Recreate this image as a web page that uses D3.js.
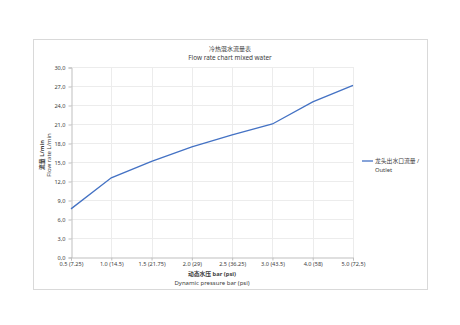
<!DOCTYPE html>
<html>
<head>
<meta charset="utf-8">
<script src="https://cdnjs.cloudflare.com/ajax/libs/d3/7.8.5/d3.min.js"></script>
<style>
  body { margin: 0; background: #fff; }
  text { font-family: "Noto Sans", "Noto Sans CJK SC", sans-serif; fill: #404040; }
</style>
</head>
<body>
<script>
"use strict";
var svg_width = 460;
var svg_height = 325;

// ---data
var pressure_labels = ["0.5 (7.25)", "1.0 (14.5)", "1.5 (21.75)", "2.0 (29)", "2.5 (36.25)", "3.0 (43.5)", "4.0 (58)", "5.0 (72,5)"];
var flow_values = [7.6, 12.5, 15.1, 17.4, 19.3, 21.0, 24.5, 27.1];
var y_ticks = [0, 3, 6, 9, 12, 15, 18, 21, 24, 27, 30];
var series_name = ["龙头出水口流量 /", "Outlet"];

var plot = {left: 71, right: 353, top: 67, bottom: 257};

var svg = d3.select("body")
    .append("svg")
    .attr("width", svg_width)
    .attr("height", svg_height);

// ---chart frame
svg.append("rect")
    .attr("x", 33.5)
    .attr("y", 39.5)
    .attr("width", 394)
    .attr("height", 250)
    .attr("fill", "#fff")
    .attr("stroke", "#d9d9d9")
    .attr("stroke-width", 1);

var xscale = d3.scalePoint()
    .domain(pressure_labels)
    .range([plot.left, plot.right]);
var yscale = d3.scaleLinear()
    .domain([0, 30])
    .range([plot.bottom, plot.top]);

// ---gridlines
svg.append("g")
    .selectAll("line.hgrid")
    .data(y_ticks.slice(1))
    .enter()
    .append("line")
    .attr("x1", plot.left)
    .attr("x2", plot.right)
    .attr("y1", function(d) { return yscale(d) + 0.5; })
    .attr("y2", function(d) { return yscale(d) + 0.5; })
    .attr("stroke", "#ececec");
svg.append("g")
    .selectAll("line.vgrid")
    .data(pressure_labels.slice(1))
    .enter()
    .append("line")
    .attr("x1", function(d) { return Math.round(xscale(d)) + 0.5; })
    .attr("x2", function(d) { return Math.round(xscale(d)) + 0.5; })
    .attr("y1", plot.top)
    .attr("y2", plot.bottom)
    .attr("stroke", "#ececec");

// ---axes
var yaxis = d3.axisLeft(yscale)
    .tickValues(y_ticks)
    .tickSize(3)
    .tickPadding(3)
    .tickFormat(function(d) { return d3.format(".1f")(d).replace(".", ","); });
var ya = svg.append("g")
    .attr("transform", "translate(" + (plot.left + 0.5) + ",0.5)")
    .call(yaxis);
var xaxis = d3.axisBottom(xscale)
    .tickSize(3)
    .tickPadding(2);
var xa = svg.append("g")
    .attr("transform", "translate(0," + (plot.bottom + 0.5) + ")")
    .call(xaxis);
[ya, xa].forEach(function(a)
{
    a.select(".domain").attr("stroke", "#bfbfbf");
    a.selectAll(".tick line").attr("stroke", "#bfbfbf");
    a.selectAll(".tick text")
        .attr("fill", "#404040")
        .style("font-size", "5.6px")
        .style("font-family", "\"Noto Sans\", sans-serif");
});

// ---the series
var line = d3.line()
    .x(function(d, i) { return xscale(pressure_labels[i]); })
    .y(function(d) { return yscale(d); });
svg.append("path")
    .datum(flow_values)
    .attr("d", line)
    .attr("fill", "none")
    .attr("stroke", "#4472c4")
    .attr("stroke-width", 1.3);

// ---titles
svg.append("text")
    .attr("x", 230).attr("y", 51)
    .attr("text-anchor", "middle")
    .style("font-size", "6px")
    .text("冷热混水流量表");
svg.append("text")
    .attr("x", 230).attr("y", 60)
    .attr("text-anchor", "middle")
    .style("font-size", "6.4px")
    .text("Flow rate chart mixed water");

svg.append("text")
    .attr("x", (plot.left + plot.right) / 2).attr("y", 276)
    .attr("text-anchor", "middle")
    .style("font-size", "5.8px")
    .style("font-weight", "bold")
    .text("动态水压 bar (psi)");
svg.append("text")
    .attr("x", (plot.left + plot.right) / 2).attr("y", 285)
    .attr("text-anchor", "middle")
    .style("font-size", "6px")
    .text("Dynamic pressure bar (psi)");

svg.append("text")
    .attr("transform", "translate(44,155) rotate(-90)")
    .attr("text-anchor", "middle")
    .style("font-size", "5.8px")
    .style("font-weight", "bold")
    .text("流量 L/min");
svg.append("text")
    .attr("transform", "translate(50.5,155) rotate(-90)")
    .attr("text-anchor", "middle")
    .style("font-size", "6px")
    .text("Flow rate L/min");

// ---legend
svg.append("line")
    .attr("x1", 362).attr("x2", 373)
    .attr("y1", 161).attr("y2", 161)
    .attr("stroke", "#4472c4")
    .attr("stroke-width", 1.3);
svg.selectAll("text.legend")
    .data(series_name)
    .enter()
    .append("text")
    .attr("class", "legend")
    .attr("x", 375)
    .attr("y", function(d, i) { return 163 + i * 9; })
    .style("font-size", "5.8px")
    .text(function(d) { return d; });
</script>
</body>
</html>
